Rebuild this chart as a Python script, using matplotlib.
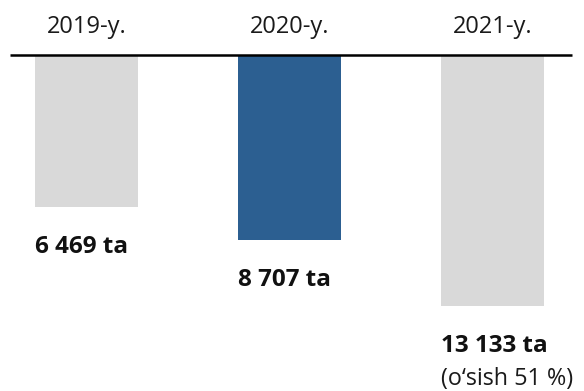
import numpy as np
import matplotlib
matplotlib.use("Agg")
import matplotlib.pyplot as plt

# Data
years = ["2019-y.", "2020-y.", "2021-y."]
counts = [6469, 8707, 13133]
bar_colors = ["#D9D9D9", "#2C5F91", "#D9D9D9"]
unit = "ta"
growth_word = "o‘sish"

plt.rcParams["font.family"] = ["Open Sans", "DejaVu Sans"]

W, H = 584, 391
fig = plt.figure(figsize=(W / 100, H / 100), dpi=100)

# axes spans the black baseline; bars hang downward from it
line_left, line_right, line_y = 10, 572, 55.5
ax = fig.add_axes([line_left / W, 0, (line_right - line_left) / W, 1 - line_y / H])

base = -3709          # value at which the bars start (the top line)
px_per_unit = 0.014856
bottom_val = base + (H - line_y) / px_per_unit

x = np.arange(len(years))
vals = np.array(counts)
ax.bar(x, vals - base, bottom=base, width=0.507, color=bar_colors, zorder=1)

ax.set_xlim(-0.377, 2.392)
ax.set_ylim(bottom_val, base)
ax.axhline(base, color="black", lw=1.8, zorder=3, solid_capstyle="butt", clip_on=False)
ax.axis("off")

# year labels above the line
for xi, lab in zip(x, years):
    ax.annotate(lab, xy=(xi, base), xytext=(0, 22.5), textcoords="offset pixels",
                ha="center", va="baseline", fontsize=17, color="#1a1a1a")

# value labels below each bar, left-aligned with the bar edge
for xi, v in zip(x, vals):
    txt = f"{v:,}".replace(",", " ") + f" {unit}"
    ax.annotate(txt, xy=(xi - 0.2535, v), xytext=(0, -46), textcoords="offset pixels",
                ha="left", va="baseline", fontsize=17.5, fontweight="bold", color="#111111")

growth = round((counts[-1] / counts[-2] - 1) * 100)
ax.annotate(f"({growth_word} {growth} %)", xy=(x[-1] - 0.2535, vals[-1]), xytext=(0, -79),
            textcoords="offset pixels", ha="left", va="baseline", fontsize=16.8,
            color="#1a1a1a")

fig.savefig("out.png", dpi=100)
